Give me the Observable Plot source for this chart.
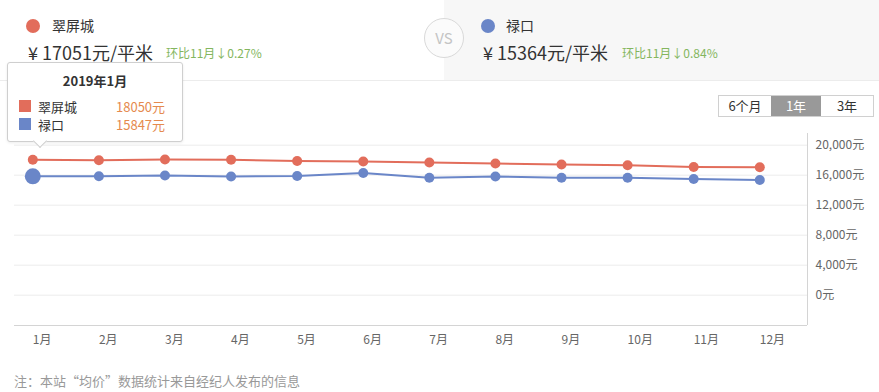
<!DOCTYPE html>
<html><head><meta charset="utf-8">
<script src="https://cdn.jsdelivr.net/npm/d3@7"></script>
<script src="https://cdn.jsdelivr.net/npm/@observablehq/plot@0.6"></script>
<style>
body{margin:0;background:#fff;font-family:"Noto Sans CJK SC","Microsoft YaHei",sans-serif;}
#wrap{position:relative;width:879px;height:392px;overflow:hidden;background:#fff;}
.abs{position:absolute;white-space:nowrap;line-height:1;}
#hdrR{position:absolute;left:444px;top:0;width:435px;height:80px;background:#f7f7f7;}
#hdrLine{position:absolute;left:0;top:80px;width:879px;height:1px;background:#ececec;}
.dot{position:absolute;width:14px;height:14px;border-radius:50%;}
.name{font-size:14px;color:#333;}
.price{font-size:18px;color:#333;}
.chg{font-size:12px;color:#84b65e;}
#vs{position:absolute;left:424px;top:18px;width:38px;height:38px;border:1px solid #d9d9d9;border-radius:50%;background:#fbfbfb;color:#c4c4c4;font-size:15px;line-height:38px;text-align:center;}
#btns{position:absolute;left:718px;top:95px;height:22px;display:flex;border:1px solid #d0d0d0;box-sizing:border-box;}
#btns div{height:20px;line-height:20px;font-size:13px;color:#333;text-align:center;background:#fff;}
#btns div.on{background:#999;color:#fff;}
#chart{position:absolute;left:0;top:125px;}
#tip{position:absolute;left:7px;top:62px;width:176px;height:80px;box-sizing:border-box;background:#fff;border:1px solid #cfcfcf;border-radius:3px;box-shadow:0 1px 3px rgba(0,0,0,0.08);z-index:5;}
#tipArrow{position:absolute;left:27px;top:73px;width:9px;height:9px;background:#fff;border-right:1px solid #cfcfcf;border-bottom:1px solid #cfcfcf;transform:rotate(45deg);}
#tip .t{position:absolute;left:0;width:100%;top:11px;text-align:center;font-weight:bold;font-size:13px;color:#333;line-height:1;}
#tip .sq{position:absolute;left:11px;width:12px;height:12px;}
#tip .n{position:absolute;left:30px;font-size:13px;color:#333;line-height:1;}
#tip .v{position:absolute;left:108px;font-size:13px;color:#e58a4e;line-height:1;}
#note{position:absolute;left:14px;top:374px;font-size:13px;color:#999;line-height:1;white-space:nowrap;}
</style></head>
<body>
<div id="wrap">
  <div id="hdrR"></div>
  <div id="hdrLine"></div>
  <div id="vs">VS</div>
  <div id="hdr"></div>
  <div id="btns"></div>
  <div id="chart"></div>
  <div id="tip"></div>
  <div id="note">注：本站“均价”数据统计来自经纪人发布的信息</div>
</div>
<script>
// ---- data ----
const months = ["1月","2月","3月","4月","5月","6月","7月","8月","9月","10月","11月","12月"];
const seriesNames = ["翠屏城","禄口"];
const seriesColors = ["#e26d5b","#6a86c8"];
const cuipingcheng = [18050,18000,18100,18050,17900,17830,17700,17560,17430,17330,17097,17051];
const lukou = [15847,15870,15960,15830,15900,16300,15650,15830,15650,15650,15494,15364];
const yTicks = [0,4000,8000,12000,16000,20000];
const rangeButtons = ["6个月","1年","3年"];
const activeButton = "1年";
const tipTitle = "2019年1月";
const tipIndex = 0;

const seriesValues = [cuipingcheng, lukou];
const data = [];
seriesNames.forEach((s,k)=>seriesValues[k].forEach((v,i)=>data.push({series:s, m:i+1, v})));
const highlight = seriesNames.map((s,k)=>({series:s, m:tipIndex+1, v:seriesValues[k][tipIndex]}));

// ---- header ----
const hdr = document.getElementById("hdr");
const hdrPos = [{dot:26, name:52, price:28, chg:166},{dot:481, name:506, price:483, chg:622}];
seriesNames.forEach((s,k)=>{
  const vals = seriesValues[k];
  const last = vals[vals.length-1], prev = vals[vals.length-2];
  const pct = Math.abs((last/prev-1)*100).toFixed(2);
  const arrow = last < prev ? "↓" : "↑";
  const p = hdrPos[k];
  hdr.insertAdjacentHTML("beforeend",
    `<div class="dot" style="left:${p.dot}px;top:19px;background:${seriesColors[k]}"></div>
     <div class="abs name" style="left:${p.name}px;top:18px">${s}</div>
     <div class="abs price" style="left:${p.price}px;top:43px">¥ ${last}元/平米</div>
     <div class="abs chg" style="left:${p.chg}px;top:47px">环比${months[months.length-2]}${arrow}${pct}%</div>`);
});

// ---- buttons ----
const bw = [52,50,52];
document.getElementById("btns").innerHTML = rangeButtons.map((b,i)=>
  `<div class="${b===activeButton?'on':''}" style="width:${bw[i]}px">${b}</div>`).join("");

// ---- tooltip ----
document.getElementById("tip").innerHTML =
  `<div class="t">${tipTitle}</div>` +
  seriesNames.map((s,k)=>
    `<div class="sq" style="top:${37+k*18}px;background:${seriesColors[k]}"></div>
     <div class="n" style="top:${37+k*18}px">${s}</div>
     <div class="v" style="top:${37+k*18}px">${seriesValues[k][tipIndex]}元</div>`).join("") +
  `<div id="tipArrow"></div>`;

// ---- chart ----
const xDomain = [0.723, 12.722];
const yDomain = [-4040, 21560];
const chart = Plot.plot({
  width: 879, height: 235,
  marginLeft: 14, marginRight: 72, marginTop: 8, marginBottom: 35,
  style: {fontFamily:'"Noto Sans CJK SC", sans-serif', fontSize:"12px", color:"#666", background:"transparent"},
  x: {type:"linear", domain:xDomain, label:null},
  y: {domain:yDomain, label:null},
  color: {domain:seriesNames, range:seriesColors},
  marks: [
    Plot.gridY(yTicks, {stroke:"#ececec", strokeOpacity:1}),
    Plot.ruleY([yDomain[0]], {stroke:"#d4d4d4"}),
    Plot.ruleX([xDomain[1]], {stroke:"#d4d4d4"}),
    Plot.axisY(yTicks, {anchor:"right", tickSize:0, tickPadding:8, fill:"#666", label:null,
      tickFormat: d => d3.format(",")(d) + "元"}),
    Plot.axisX(months.map((_,i)=>i+1), {anchor:"bottom", tickSize:0, tickPadding:10, fill:"#666", label:null,
      textAnchor:"start", tickFormat: i => months[i-1]}),
    Plot.line(data, {x:"m", y:"v", z:"series", stroke:"series", strokeWidth:2}),
    Plot.dot(data, {x:"m", y:"v", fill:"series", r:5}),
    Plot.dot(highlight.slice(1), {x:"m", y:"v", fill:"series", r:8})
  ]
});
document.getElementById("chart").appendChild(chart);
</script>
</body></html>
